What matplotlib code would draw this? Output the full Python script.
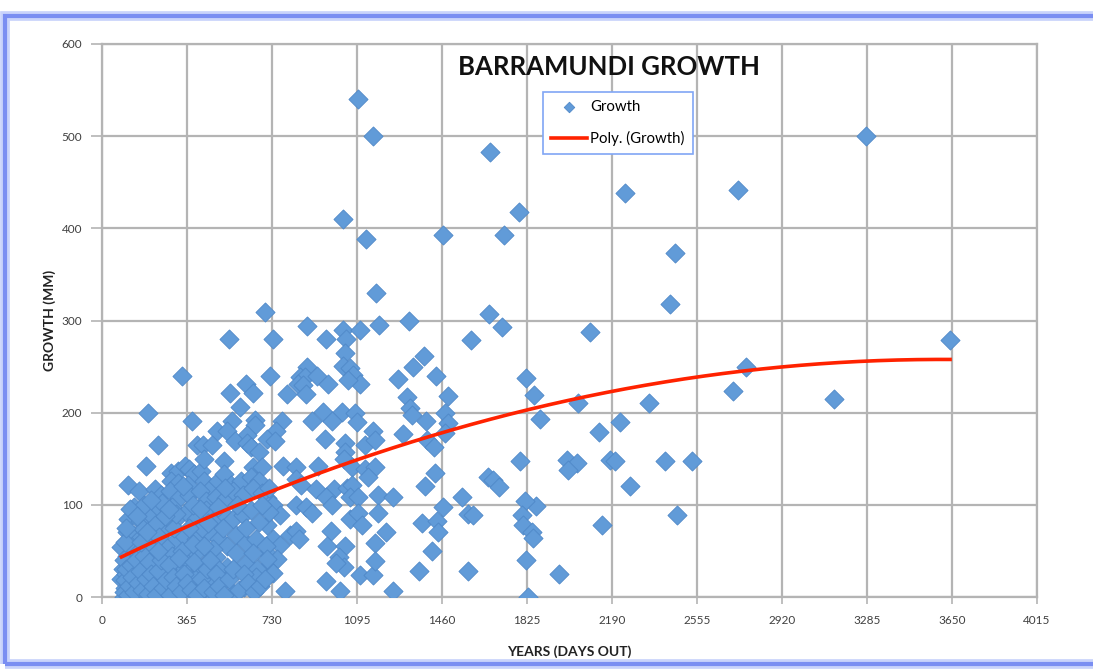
import numpy as np
import matplotlib
matplotlib.use('Agg')
import matplotlib.pyplot as plt
from matplotlib.patches import Rectangle

plt.rcParams['font.family'] = ['Lato', 'DejaVu Sans']

# days out (x) and growth in mm (y)
days = [
    # right part of the plot
    1668, 1792, 1464, 1728, 2247, 2731, 2462, 2440, 1665, 1719, 1586, 2097, 1821, 2767,
    1489, 1856, 2709, 1474, 1489, 1474, 2047, 2352, 1882, 2226, 2134, 1796, 1997, 2040,
    2004, 2183, 2204, 2419, 2533, 1660, 1682, 1708, 2269, 1549, 1467, 1865, 1818, 1575,
    1596, 1804, 1811, 1846, 1851, 2472, 2148, 1821, 1572, 1964, 1832, 3282, 3643, 3145,
    # upper middle
    1100, 1165, 1036, 1136, 1178, 701, 883, 1192, 1319, 547, 737, 963, 1037, 1109, 1049,
    1045, 1385, 1338, 1035, 1066, 1080, 1109, 1059, 880, 851, 873, 923, 844, 866, 877,
    723, 970, 1271, 1435, 346, 620, 651, 551, 594, 794, 1313, 1324, 1331, 200, 386, 558,
    659, 773, 902, 952, 1030, 1088, 1095, 987, 1392, 494, 537, 659, 623, 747, 1163, 1292,
    243, 408, 436, 472, 572, 623, 708, 744, 959, 1045, 1131,
    # lower middle
    1046, 1173, 1397, 1425, 779, 835, 927, 1039, 1074, 1130, 1173, 1144, 1432, 1390,
    835, 856, 920, 997, 962, 990, 1053, 1074, 1067, 1102, 1187, 1250,
    709, 737, 765, 835, 877, 905, 1067, 1102, 1116, 1187, 1222, 1376, 1439, 1446,
    709, 737, 765, 807, 835, 849, 983, 969, 1046, 1173, 1418,
    709, 751, 709, 737, 1018, 1039, 1004, 1109, 1165, 1172, 962, 1025, 786, 1250, 1362,
    # dense cluster
    192, 114, 161, 299, 327, 356, 377, 398, 427, 441, 527, 640, 676, 648, 690,
    299, 327, 370, 441, 469, 498, 526, 555, 598, 640, 676,
    228, 256, 292, 334, 377, 420, 448, 491, 533, 562, 605, 648, 690, 719,
    114, 164, 213, 249, 285, 327, 363, 406, 448, 477, 519, 562, 605, 640, 676, 719,
    85, 135, 178, 221, 263, 306, 348, 406, 462, 505, 540, 576, 619, 662, 704,
    92, 135, 192, 235, 277, 320, 363, 406, 448, 491, 540, 576, 619, 669, 711,
    85, 121, 164, 206, 249, 292, 356, 406, 462, 512, 562, 612, 662, 228,
    100, 105, 110, 95, 130, 145, 150, 175, 185, 200, 215, 260, 270, 300, 310, 335, 345,
    380, 390, 420, 430, 470, 480, 500, 520, 140, 180, 230, 260, 300, 390, 420, 455, 500,
    530, 580, 620, 650, 690, 125, 160, 200, 245, 280, 320, 350, 375, 400, 440, 225, 95, 110,
    # bottom of the cluster
    95, 100, 105, 112, 118, 125, 132, 140, 148, 155, 165, 172, 180, 190, 198, 205, 212,
    220, 235, 242, 255, 265, 275, 288, 295, 305, 318, 330, 342, 355, 368, 385, 395, 410,
    425, 438, 452, 465, 478, 490, 505, 525, 548, 565, 590, 610, 630, 655, 680, 700,
    98, 103, 120, 150, 170, 195, 210, 240, 270, 290,
]
growth = [
    483, 418, 393, 393, 438, 442, 373, 318, 307, 293, 279, 288, 238, 250,
    218, 219, 224, 200, 189, 178, 210, 210, 193, 190, 179, 148, 149, 145,
    138, 149, 148, 148, 148, 130, 127, 119, 120, 109, 98, 99, 104, 90,
    89, 89, 78, 71, 64, 89, 78, 40, 28, 25, 0, 500, 279, 215,
    540, 500, 410, 388, 330, 309, 294, 295, 300, 280, 280, 280, 290, 290, 280,
    265, 261, 250, 251, 248, 241, 231, 235, 250, 239, 239, 240, 231, 230, 220,
    240, 231, 237, 240, 240, 231, 221, 221, 206, 220, 217, 205, 198, 200, 191, 191,
    192, 191, 191, 201, 201, 200, 190, 191, 191, 180, 180, 187, 176, 180, 180, 177,
    165, 165, 165, 165, 169, 167, 171, 169, 171, 167, 165,
    157, 170, 170, 163, 142, 141, 142, 150, 141, 139, 141, 130, 135, 120,
    128, 122, 117, 117, 109, 100, 118, 122, 109, 109, 111, 109,
    107, 100, 89, 100, 98, 91, 85, 91, 78, 91, 70, 80, 83, 70,
    78, 63, 56, 67, 72, 63, 72, 55, 55, 59, 50,
    48, 41, 33, 26, 43, 33, 37, 24, 24, 39, 17, 7, 7, 7, 28,
    142, 122, 115, 135, 137, 142, 139, 133, 137, 150, 148, 163, 157, 141, 141,
    126, 124, 122, 126, 118, 126, 133, 122, 126, 130, 126,
    117, 111, 115, 107, 111, 115, 104, 109, 107, 115, 111, 118, 113, 118,
    85, 83, 89, 96, 81, 87, 92, 85, 94, 83, 91, 85, 89, 94, 81, 92,
    54, 67, 74, 63, 70, 59, 67, 63, 70, 63, 55, 67, 59, 63, 55,
    30, 41, 48, 37, 44, 33, 41, 48, 37, 43, 33, 48, 37, 30, 41,
    19, 7, 0, 15, 4, 11, 0, 11, 6, 15, 4, 11, 22, 0,
    10, 25, 45, 0, 15, 28, 55, 20, 35, 55, 10, 22, 55, 45, 75, 20, 50,
    28, 58, 30, 75, 20, 52, 30, 75, 98, 100, 78, 102, 98, 100, 95, 80, 98,
    118, 100, 75, 48, 100, 55, 50, 30, 65, 30, 90, 120, 75, 20, 55, 45, 40, 70,
    5, 18, 30, 2, 12, 35, 22, 5, 40, 15, 28, 8, 45, 20, 3, 38, 25,
    12, 2, 28, 40, 10, 18, 35, 2, 22, 12, 42, 5, 25, 15, 8, 38, 2,
    20, 10, 30, 40, 5, 25, 12, 2, 20, 30, 8, 25, 15, 5, 12, 20,
    60, 75, 95, 88, 60, 70, 105, 50, 88, 95,
]

x_ticks = list(range(0, 4016, 365))
y_ticks = list(range(0, 601, 100))

fig = plt.figure(figsize=(10.93, 6.70), dpi=100)
W, H = 1093, 670

# window frame around the chart
frame_glow = Rectangle((5 / W, 6 / H), 1.2, 1 - 22 / H, transform=fig.transFigure,
                       fill=False, edgecolor='#c9d3fb', linewidth=7, zorder=0)
frame = Rectangle((5 / W, 6 / H), 1.2, 1 - 22 / H, transform=fig.transFigure,
                  fill=False, edgecolor='#7a8ef2', linewidth=3, zorder=0)
fig.patches.extend([frame_glow, frame])

ax = fig.add_axes([101.7 / W, 1 - 597 / H, 935 / W, 553 / H])

ax.scatter(days, growth, marker='D', s=95, facecolor='#619bd8',
           edgecolor='#4f88c8', linewidth=0.6, zorder=3, label='Growth')

coef = np.polyfit(days, growth, 2)
xs = np.linspace(min(days), max(days), 300)
ax.plot(xs, np.polyval(coef, xs), color='#ff2200', linewidth=2.6, zorder=4,
        label='Poly. (Growth)')

ax.set_xlim(0, 4015)
ax.set_ylim(0, 600)
ax.set_xticks(x_ticks)
ax.set_yticks(y_ticks)
ax.grid(True, color='#b4b4b4', linewidth=1.6, zorder=0)
ax.set_axisbelow(True)
for sp in ax.spines.values():
    sp.set_color('#b4b4b4')
    sp.set_linewidth(1.6)
ax.tick_params(axis='both', colors='#b4b4b4', labelcolor='#404040', labelsize=8.5, width=1.2)
ax.tick_params(axis='y', length=8, pad=6)
ax.tick_params(axis='x', length=5, pad=8)

ax.set_xlabel('YEARS (DAYS OUT)', fontsize=10, fontweight='bold', color='#222222', labelpad=14)
ax.set_ylabel('GROWTH (MM)', fontsize=10, fontweight='bold', color='#222222', labelpad=4)

ax.text(0.5426, 0.958, 'BARRAMUNDI GROWTH', transform=ax.transAxes, ha='center', va='center',
        fontsize=18.5, fontweight='bold', color='#111111', zorder=6)

leg = ax.legend(loc='upper left', bbox_to_anchor=(0.472, 0.913), borderaxespad=0,
                fancybox=False, framealpha=1, edgecolor='#80a6f5', fontsize=10.8,
                labelspacing=1.1, handlelength=2.4, handletextpad=0.2, borderpad=0.55,
                markerscale=0.55)
leg.get_frame().set_linewidth(1.2)
leg.set_zorder(7)

fig.savefig('out.png', dpi=100)
